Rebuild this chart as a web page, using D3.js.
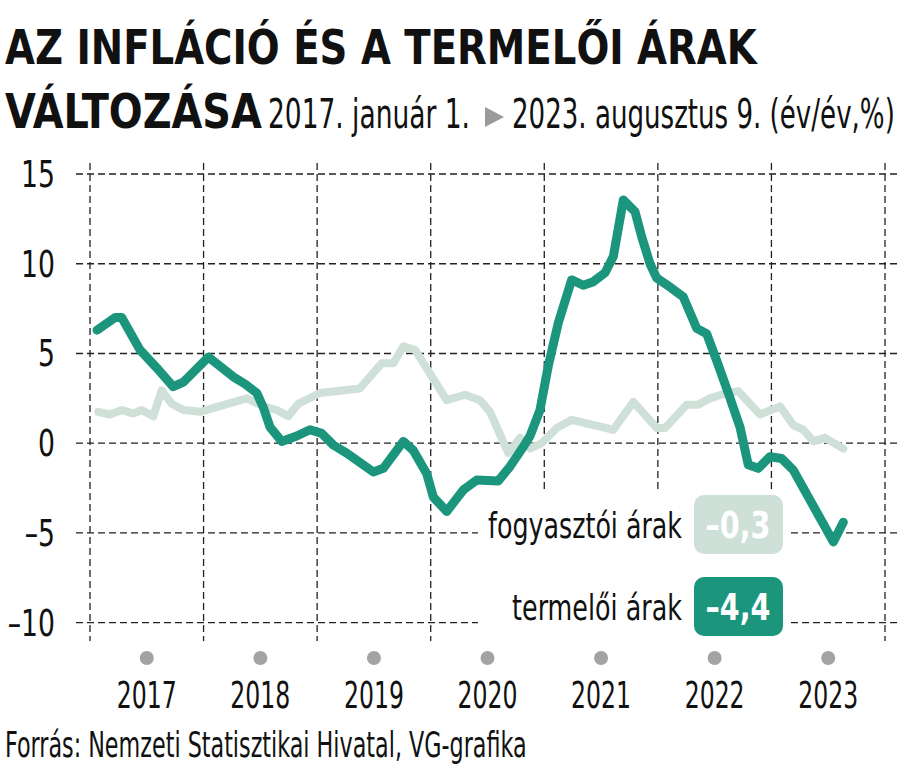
<!DOCTYPE html>
<html><head><meta charset="utf-8">
<script src="https://cdn.jsdelivr.net/npm/d3@7"></script>
<style>
html,body{margin:0;padding:0;background:#fff;}
svg{display:block;}
text{font-family:'Liberation Sans Narrow','DejaVu Sans Condensed','Roboto',sans-serif;}
</style></head>
<body>
<svg id="chart" width="900" height="779"></svg>
<script>
// ---------- DATA ----------
const titleLine1 = "AZ INFLÁCIÓ ÉS A TERMELŐI ÁRAK";
const titleLine2 = "VÁLTOZÁSA";
const subtitleFrom = "2017. január 1.";
const subtitleTo = "2023. augusztus 9. (év/év,%)";
const source = "Forrás: Nemzeti Statisztikai Hivatal, VG-grafika";
const years = [2017, 2018, 2019, 2020, 2021, 2022, 2023];
const yTicks = [-10, -5, 0, 5, 10, 15];
const seriesNames = ["fogyasztói árak", "termelői árak"];
const latestValues = [-0.3, -4.4];

// termelői árak (producer prices), time in decimal years
const ppiTime = [2017.062,2017.220,2017.279,2017.440,2017.587,2017.733,2017.822,2018.042,2018.262,2018.365,2018.468,2018.526,2018.585,2018.688,2018.820,2018.937,2019.040,2019.142,2019.260,2019.494,2019.583,2019.759,2019.847,2019.965,2020.023,2020.141,2020.287,2020.405,2020.595,2020.698,2020.815,2020.874,2020.962,2021.035,2021.123,2021.241,2021.344,2021.432,2021.535,2021.608,2021.696,2021.799,2021.858,2021.931,2021.990,2022.107,2022.224,2022.342,2022.430,2022.518,2022.620,2022.723,2022.796,2022.884,2022.987,2023.090,2023.193,2023.545,2023.633];
const ppiValue = [6.3,7.0,7.0,5.2,4.2,3.15,3.4,4.8,3.7,3.3,2.8,2.0,0.9,0.1,0.4,0.75,0.55,-0.1,-0.55,-1.6,-1.4,0.1,-0.4,-1.7,-3.0,-3.8,-2.6,-2.05,-2.1,-1.3,-0.2,0.4,1.85,4.3,6.7,9.1,8.8,9.0,9.5,10.4,13.55,12.9,11.5,10.0,9.2,8.7,8.15,6.4,6.1,4.6,2.8,0.9,-1.2,-1.4,-0.75,-0.85,-1.5,-5.5,-4.4];

// fogyasztói árak (consumer prices)
const cpiTime = [2017.073,2017.176,2017.279,2017.381,2017.455,2017.557,2017.631,2017.719,2017.822,2017.969,2018.380,2018.526,2018.644,2018.746,2018.834,2019.025,2019.377,2019.568,2019.671,2019.759,2019.862,2020.141,2020.302,2020.434,2020.522,2020.683,2020.786,2020.874,2020.977,2021.109,2021.241,2021.608,2021.784,2021.990,2022.063,2022.254,2022.356,2022.459,2022.606,2022.708,2022.899,2023.076,2023.193,2023.281,2023.369,2023.472,2023.633];
const cpiValue = [1.75,1.6,1.85,1.65,1.85,1.5,2.95,2.2,1.85,1.75,2.5,2.05,1.85,1.5,2.2,2.8,3.05,4.45,4.45,5.4,5.2,2.4,2.7,2.4,1.75,-0.55,0.3,-0.3,0.0,0.85,1.3,0.75,2.3,0.85,0.85,2.15,2.15,2.5,2.8,2.9,1.6,2.05,1.0,0.75,0.1,0.3,-0.3];

// ---------- STYLE ----------
const DARK = "#1b967d", LIGHT = "#cfe0d8", DOT = "#a3a3a3";

const svg = d3.select("#chart");
const x = d3.scaleLinear().domain([2017, 2024]).range([90, 885]);
const y = d3.scaleLinear().domain([-10, 15]).range([622.7, 174]);

// condense text horizontally around its anchor x so it spans a target width
function fit(sel, w){
  sel.each(function(){
    const nat = this.getComputedTextLength();
    const sx = w / nat;
    const X = +this.getAttribute("x");
    this.setAttribute("transform", `translate(${X},0) scale(${sx},1) translate(${-X},0)`);
  });
  return sel;
}
function squeeze(sel, sx){
  sel.each(function(){
    const X = +this.getAttribute("x");
    this.setAttribute("transform", `translate(${X},0) scale(${sx},1) translate(${-X},0)`);
  });
  return sel;
}

// ---------- TITLE ----------
fit(svg.append("text").attr("x",5).attr("y",64).attr("font-size",48).attr("font-weight","bold").attr("fill","#111").text(titleLine1), 752);
fit(svg.append("text").attr("x",5).attr("y",128).attr("font-size",48).attr("font-weight","bold").attr("fill","#111").text(titleLine2), 257);
fit(svg.append("text").attr("x",268).attr("y",128).attr("font-size",40).attr("fill","#111").text(subtitleFrom), 202);
svg.append("path").attr("d","M485,107 L504,117 L485,127 Z").attr("fill","#9a9a9a");
fit(svg.append("text").attr("x",512).attr("y",128).attr("font-size",40).attr("fill","#111").text(subtitleTo), 383);

// ---------- GRID ----------
const grid = svg.append("g").attr("stroke","#222").attr("stroke-width",1.3).attr("stroke-dasharray","7,4").attr("fill","none");
grid.selectAll("line.h").data(yTicks).join("line").attr("class","h")
  .attr("x1",76).attr("x2",900).attr("y1",d=>y(d)).attr("y2",d=>y(d));
grid.selectAll("line.v").data(d3.range(2017, 2025)).join("line").attr("class","v")
  .attr("x1",d=>x(d)).attr("x2",d=>x(d)).attr("y1",163).attr("y2",641);

// y labels
const fmt = v => (v < 0 ? "\u2013" + Math.abs(v) : String(v));
const yl = svg.append("g").selectAll("text").data(yTicks).join("text")
  .attr("x",55).attr("y",d=>y(d)+13).attr("text-anchor","end").attr("font-size",37).attr("fill","#111").text(fmt);
squeeze(yl, 0.8);

// year dots and labels
svg.append("g").selectAll("circle").data(years).join("circle")
  .attr("cx",d=>x(d+0.5)).attr("cy",658).attr("r",7).attr("fill",DOT);
const yrs = svg.append("g").selectAll("text").data(years).join("text")
  .attr("x",d=>x(d+0.5)).attr("y",708).attr("text-anchor","middle").attr("font-size",38).attr("fill","#111").text(d=>d);
fit(yrs, 60);

// ---------- LEGEND (with white backing) ----------
svg.append("rect").attr("x",478).attr("y",491).attr("width",312).attr("height",152).attr("fill","#fff");
const legendRows = [
  {name: seriesNames[0], val: latestValues[0], color: LIGHT, y: 495, tw: 194},
  {name: seriesNames[1], val: latestValues[1], color: DARK, y: 577, tw: 170}
];
const vfmt = v => (v < 0 ? "\u2013" : "") + Math.abs(v).toFixed(1).replace(".", ",");
legendRows.forEach(r => {
  fit(svg.append("text").attr("x",682).attr("y",r.y+43).attr("text-anchor","end").attr("font-size",36).attr("fill","#111").text(r.name), r.tw);
  svg.append("rect").attr("x",694).attr("y",r.y).attr("width",89).attr("height",59).attr("rx",10).attr("fill",r.color);
  fit(svg.append("text").attr("x",738).attr("y",r.y+43).attr("text-anchor","middle").attr("font-size",37).attr("font-weight","bold").attr("fill","#fff").text(vfmt(r.val)), 65);
});

// ---------- LINES ----------
const line = d3.line().x(d=>x(d[0])).y(d=>y(d[1]));
svg.append("path").datum(d3.zip(cpiTime, cpiValue)).attr("d", line)
  .attr("fill","none").attr("stroke",LIGHT).attr("stroke-width",8).attr("stroke-linejoin","round").attr("stroke-linecap","round");
svg.append("path").datum(d3.zip(ppiTime, ppiValue)).attr("d", line)
  .attr("fill","none").attr("stroke",DARK).attr("stroke-width",9).attr("stroke-linejoin","round").attr("stroke-linecap","round");

// ---------- SOURCE ----------
fit(svg.append("text").attr("x",5).attr("y",757).attr("font-size",35).attr("fill","#111").text(source), 522);
</script>
</body></html>
